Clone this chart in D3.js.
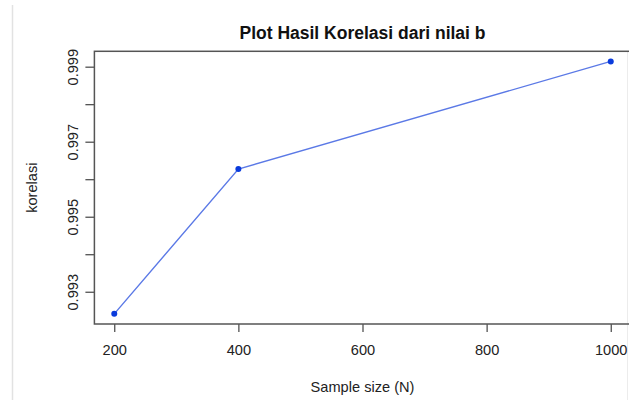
<!DOCTYPE html>
<html>
<head>
<meta charset="utf-8">
<script src="https://cdn.jsdelivr.net/npm/d3@7"></script>
<style>
  body { margin: 0; background: #fff; }
  svg { display: block; font-family: "Liberation Sans", Arial, sans-serif; }
</style>
</head>
<body>
<svg width="629" height="400"></svg>
<script>
// data
const sampleSize = [200, 400, 1000];
const korelasi = [0.99241, 0.99627, 0.99914];
const xTicks = [200, 400, 600, 800, 1000];
const yTicks = [0.993, 0.994, 0.995, 0.996, 0.997, 0.998, 0.999];
const yLabels = ["0.993", "0.995", "0.997", "0.999"];

const svg = d3.select("svg");
let width = 629;
let height = 400;

// plot region (R style, 4% padding)
const margin = { left: 94.4, right: 630.6, top: 51.3, bottom: 324 };

const x = d3.scaleLinear()
    .domain([168, 1032])
    .range([margin.left, margin.right]);
const y = d3.scaleLinear()
    .domain([0.99214, 0.99941])
    .range([margin.bottom, margin.top]);

// faint border lines from the screenshot
svg.append("line")
    .attr("x1", 12.5).attr("x2", 12.5)
    .attr("y1", 5).attr("y2", 400)
    .style("stroke", "#e2e2e2").style("stroke-width", 1.5);
svg.append("line")
    .attr("x1", 627.5).attr("x2", 627.5)
    .attr("y1", 51).attr("y2", 400)
    .style("stroke", "#ececec").style("stroke-width", 1);

// axes
const xAxis = d3.axisBottom(x)
    .tickValues(xTicks)
    .tickSize(8)
    .tickSizeOuter(0)
    .tickPadding(13)
    .tickFormat(d3.format("d"));

const gx = svg.append("g")
    .attr("transform", "translate(0," + margin.bottom + ")")
    .call(xAxis);
gx.select(".domain").remove();
gx.selectAll("line").style("stroke", "#444").style("stroke-width", 1.2);
gx.selectAll("text")
    .style("font-size", "14.6px")
    .style("fill", "#222");

const yAxis = d3.axisLeft(y)
    .tickValues(yTicks)
    .tickSize(9)
    .tickSizeOuter(0)
    .tickFormat(d => yLabels.includes(d3.format(".3f")(d)) ? d3.format(".3f")(d) : "");

const gy = svg.append("g")
    .attr("transform", "translate(" + margin.left + ",0)")
    .call(yAxis);
gy.select(".domain").remove();
gy.selectAll("line").style("stroke", "#444").style("stroke-width", 1.2);
gy.selectAll("text")
    .attr("x", 0)
    .attr("dy", 0)
    .attr("text-anchor", "middle")
    .attr("transform", "translate(-16.5,0) rotate(-90)")
    .style("font-size", "14.6px")
    .style("fill", "#222");

// box
svg.append("rect")
    .attr("x", margin.left)
    .attr("y", margin.top)
    .attr("width", margin.right - margin.left)
    .attr("height", margin.bottom - margin.top)
    .style("fill", "none")
    .style("stroke", "#555")
    .style("stroke-width", 1.5);

// line + points
const pts = sampleSize.map((d, i) => ({ n: d, r: korelasi[i] }));

svg.append("path")
    .datum(pts)
    .attr("d", d3.line().x(d => x(d.n)).y(d => y(d.r)))
    .style("fill", "none")
    .style("stroke", "#5b79e6")
    .style("stroke-width", 1.4);

svg.selectAll("circle.pt")
    .data(pts)
    .enter()
    .append("circle")
    .attr("class", "pt")
    .attr("cx", d => x(d.n))
    .attr("cy", d => y(d.r))
    .attr("r", 3)
    .style("fill", "#0a3bdc");

// titles
svg.append("text")
    .attr("x", (margin.left + margin.right) / 2)
    .attr("y", 39)
    .attr("text-anchor", "middle")
    .style("font-weight", "bold")
    .style("font-size", "17.5px")
    .style("fill", "#111")
    .text("Plot Hasil Korelasi dari nilai b");

svg.append("text")
    .attr("x", (margin.left + margin.right) / 2)
    .attr("y", 392)
    .attr("text-anchor", "middle")
    .style("font-size", "14.6px")
    .style("fill", "#222")
    .text("Sample size (N)");

svg.append("text")
    .attr("transform", "translate(37," + (margin.top + margin.bottom) / 2 + ") rotate(-90)")
    .attr("text-anchor", "middle")
    .style("font-size", "14.6px")
    .style("fill", "#222")
    .text("korelasi");
</script>
</body>
</html>
